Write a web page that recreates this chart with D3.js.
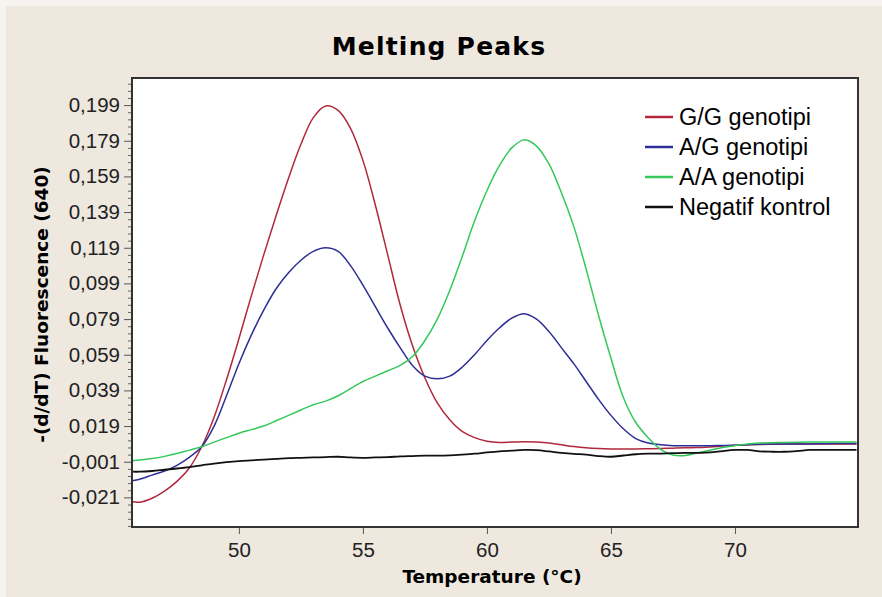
<!DOCTYPE html>
<html>
<head>
<meta charset="utf-8">
<script src="https://cdn.jsdelivr.net/npm/d3@7"></script>
<style>
  html, body { margin: 0; padding: 0; background: #ffffff; }
  svg { display: block; }
</style>
</head>
<body>
<svg id="chart" width="882" height="597"></svg>
<script>
// ---- data ----
const temps = [45.7, 46.0, 46.5, 47.0, 47.5, 48.0, 48.5, 49.0, 49.5, 50.0,
  50.5, 51.0, 51.5, 52.0, 52.5, 53.0, 53.5, 54.0, 54.5, 55.0,
  55.5, 56.0, 56.5, 57.0, 57.5, 58.0, 58.5, 59.0, 59.5, 60.0,
  60.5, 61.0, 61.5, 62.0, 62.5, 63.0, 63.5, 64.0, 64.5, 65.0,
  65.5, 66.0, 66.5, 67.0, 67.5, 68.0, 68.5, 69.0, 69.5, 70.0,
  70.5, 71.0, 71.5, 72.0, 72.5, 73.0, 73.5, 74.0, 74.5, 74.9];

const ggValues = [-0.0235, -0.0237, -0.0215, -0.0175, -0.012, -0.0045, 0.0074, 0.024, 0.045, 0.068,
  0.092, 0.115, 0.137, 0.158, 0.177, 0.192, 0.1985, 0.196, 0.186, 0.168,
  0.143, 0.115, 0.087, 0.064, 0.046, 0.032, 0.0225, 0.016, 0.0125, 0.0105,
  0.0098, 0.0100, 0.0102, 0.0100, 0.0095, 0.0085, 0.0075, 0.0068, 0.0064, 0.0062,
  0.0062, 0.0062, 0.0063, 0.0064, 0.0066, 0.0068, 0.007, 0.0073, 0.0078, 0.0082,
  0.0085, 0.0087, 0.0088, 0.0089, 0.009, 0.009, 0.009, 0.009, 0.009, 0.009];

const agValues = [-0.0117, -0.0108, -0.0085, -0.0062, -0.003, 0.0015, 0.0074, 0.019, 0.036, 0.054,
  0.070, 0.084, 0.096, 0.105, 0.112, 0.117, 0.119, 0.117, 0.109, 0.098,
  0.086, 0.074, 0.063, 0.053, 0.047, 0.0455, 0.047, 0.052, 0.059, 0.067,
  0.074, 0.0795, 0.082, 0.079, 0.072, 0.063, 0.054, 0.044, 0.034, 0.025,
  0.0175, 0.012, 0.0095, 0.0085, 0.008, 0.008, 0.008, 0.008, 0.0081, 0.0082,
  0.0085, 0.0088, 0.009, 0.009, 0.009, 0.009, 0.0091, 0.0092, 0.0092, 0.0092];

const aaValues = [-0.0004, 0.0000, 0.0008, 0.002, 0.0036, 0.0055, 0.0074, 0.0100, 0.0125, 0.015,
  0.017, 0.019, 0.022, 0.025, 0.028, 0.031, 0.033, 0.036, 0.040, 0.044,
  0.047, 0.050, 0.053, 0.058, 0.067, 0.079, 0.095, 0.114, 0.134, 0.151,
  0.165, 0.175, 0.1795, 0.176, 0.166, 0.150, 0.131, 0.107, 0.081, 0.057,
  0.035, 0.021, 0.0125, 0.006, 0.0028, 0.0025, 0.004, 0.0055, 0.007, 0.008,
  0.009, 0.0095, 0.0097, 0.0098, 0.0099, 0.010, 0.010, 0.010, 0.010, 0.010];

const negValues = [-0.0066, -0.0066, -0.0062, -0.0055, -0.0048, -0.004, -0.003, -0.002, -0.0012, -0.0006,
  -0.0002, 0.0002, 0.0006, 0.001, 0.0012, 0.0014, 0.0016, 0.0018, 0.0014, 0.0012,
  0.0014, 0.0016, 0.002, 0.0022, 0.0024, 0.0024, 0.0026, 0.003, 0.0035, 0.0042,
  0.0048, 0.0052, 0.0056, 0.0055, 0.0048, 0.004, 0.0034, 0.003, 0.0022, 0.0018,
  0.0025, 0.0032, 0.0035, 0.0036, 0.0038, 0.004, 0.004, 0.0042, 0.005, 0.0056,
  0.0056, 0.0048, 0.0046, 0.0046, 0.005, 0.0056, 0.0057, 0.0057, 0.0057, 0.0057];

const seriesNames = ["G/G genotipi", "A/G genotipi", "A/A genotipi", "Negatif kontrol"];
const seriesColors = ["#b0283c", "#2e2e96", "#34c85a", "#111111"];
const seriesValues = [ggValues, agValues, aaValues, negValues];

const xTicks = [50, 55, 60, 65, 70];
const yTicks = [-0.021, -0.001, 0.019, 0.039, 0.059, 0.079, 0.099, 0.119, 0.139, 0.159, 0.179, 0.199];
const yMinorStep = 0.004;

const titleText = "Melting Peaks";
const xTitle = "Temperature (\u00B0C)";
const yTitle = "-(d/dT) Fluorescence (640)";

// ---- layout ----
const W = 882, H = 597;
const plot = { left: 132, top: 78, right: 858, bottom: 527 };

const svg = d3.select("#chart");

// background
svg.append("rect").attr("x", 0).attr("y", 0).attr("width", W).attr("height", H).attr("fill", "#f7f4ef");
svg.append("rect").attr("x", 6).attr("y", 6).attr("width", W - 6).attr("height", H - 6).attr("fill", "#eee8df");

const x = d3.scaleLinear().domain([45.69, 74.96]).range([plot.left, plot.right]);
const y = d3.scaleLinear().domain([-0.0376, 0.2142]).range([plot.bottom, plot.top]);

// plot area
svg.append("rect")
  .attr("x", plot.left).attr("y", plot.top)
  .attr("width", plot.right - plot.left).attr("height", plot.bottom - plot.top)
  .attr("fill", "#ffffff");

const fmt = v => (v < 0 ? "-" : "") + Math.abs(v).toFixed(3).replace(".", ",");

// y axis major ticks
const yAxis = d3.axisLeft(y).tickValues(yTicks).tickFormat(fmt).tickSize(8).tickPadding(4);
const gy = svg.append("g").attr("transform", `translate(${plot.left},0)`).call(yAxis);
gy.select(".domain").remove();
gy.selectAll(".tick line").attr("stroke", "#555").attr("stroke-width", 1);
gy.selectAll(".tick text")
  .attr("font-family", "'Liberation Sans', Arial, sans-serif")
  .attr("font-size", "20.5px").attr("fill", "#222");

// y minor ticks
const minor = [];
for (let v = yTicks[0]; v <= y.domain()[1] + 1e-9; v += yMinorStep) minor.push(+v.toFixed(4));
for (let v = yTicks[0] - yMinorStep; v >= y.domain()[0] - 1e-9; v -= yMinorStep) minor.push(+v.toFixed(4));
const minorOnly = minor.filter(v => !yTicks.some(t => Math.abs(t - v) < 1e-6));
const yMinorAxis = d3.axisLeft(y).tickValues(minorOnly).tickFormat("").tickSize(4);
const gym = svg.append("g").attr("transform", `translate(${plot.left},0)`).call(yMinorAxis);
gym.select(".domain").remove();
gym.selectAll(".tick line").attr("stroke", "#666").attr("stroke-width", 1);

// x axis
const xAxis = d3.axisBottom(x).tickValues(xTicks).tickFormat(d3.format("d")).tickSize(7).tickPadding(8);
const gx = svg.append("g").attr("transform", `translate(0,${plot.bottom})`).call(xAxis);
gx.select(".domain").remove();
gx.selectAll(".tick line").attr("stroke", "#555").attr("stroke-width", 1);
gx.selectAll(".tick text")
  .attr("font-family", "'Liberation Sans', Arial, sans-serif")
  .attr("font-size", "20.5px").attr("fill", "#222");

// curves
svg.append("clipPath").attr("id", "clip").append("rect")
  .attr("x", plot.left).attr("y", plot.top)
  .attr("width", plot.right - plot.left).attr("height", plot.bottom - plot.top);

const line = d3.line()
  .x((d, i) => x(temps[i]))
  .y(d => y(d))
  .curve(d3.curveCatmullRom.alpha(0.5));

const gLines = svg.append("g").attr("clip-path", "url(#clip)");
seriesValues.forEach((vals, k) => {
  gLines.append("path")
    .datum(vals)
    .attr("d", line)
    .attr("fill", "none")
    .attr("stroke", seriesColors[k])
    .attr("stroke-width", k === 3 ? 1.8 : 1.5)
    .attr("stroke-linejoin", "round");
});

// frame
svg.append("rect")
  .attr("x", plot.left).attr("y", plot.top)
  .attr("width", plot.right - plot.left).attr("height", plot.bottom - plot.top)
  .attr("fill", "none").attr("stroke", "#333").attr("stroke-width", 2);

// legend
const legend = svg.append("g");
seriesNames.forEach((name, k) => {
  const cy = 117 + k * 30;
  legend.append("line")
    .attr("x1", 645).attr("x2", 673).attr("y1", cy).attr("y2", cy)
    .attr("stroke", seriesColors[k]).attr("stroke-width", 2.5);
  legend.append("text")
    .attr("x", 679).attr("y", cy + 8)
    .attr("font-family", "'Liberation Sans', Arial, sans-serif")
    .attr("font-size", "23.5px").attr("fill", "#000")
    .text(name);
});

// titles
svg.append("text")
  .attr("x", 439).attr("y", 55)
  .attr("text-anchor", "middle")
  .attr("font-family", "'DejaVu Sans', sans-serif")
  .attr("font-weight", "bold")
  .attr("font-size", "25px")
  .attr("letter-spacing", "1.2px")
  .attr("fill", "#000")
  .text(titleText);

svg.append("text")
  .attr("x", (plot.left + plot.right) / 2 - 3).attr("y", 583)
  .attr("text-anchor", "middle")
  .attr("font-family", "'DejaVu Sans', sans-serif")
  .attr("font-weight", "bold")
  .attr("font-size", "18.5px")
  .attr("fill", "#000")
  .text(xTitle);

svg.append("text")
  .attr("transform", `translate(48,${(plot.top + plot.bottom) / 2 + 2}) rotate(-90)`)
  .attr("text-anchor", "middle")
  .attr("font-family", "'DejaVu Sans', sans-serif")
  .attr("font-weight", "bold")
  .attr("font-size", "18.5px")
  .attr("fill", "#000")
  .text(yTitle);
</script>
</body>
</html>
